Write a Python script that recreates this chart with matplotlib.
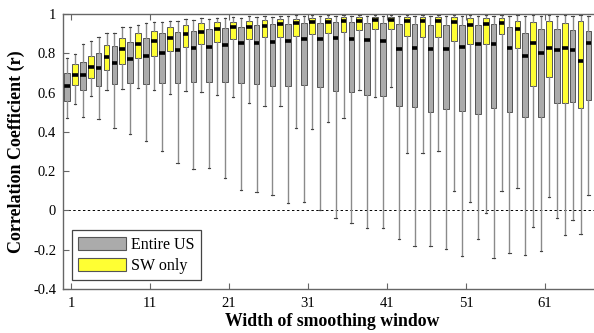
import matplotlib
matplotlib.use('Agg')
import matplotlib.pyplot as plt
from matplotlib.patches import Patch

# Smoothing window widths (one pair of boxes per width)
windows = list(range(1, 68, 2))

# Entire US: lower whisker, Q1, median, Q3, upper whisker
us_lo = [0.468, 0.477, 0.463, 0.421, 0.389, 0.355, 0.305, 0.240, 0.209, 0.214, 0.163, 0.104,
         0.095, 0.078, 0.039, 0.044, 0.002, -0.037, -0.062, -0.087, -0.091, -0.147, -0.181,
         -0.181, -0.198, -0.232, -0.147, -0.244, -0.218, -0.227, -0.207, -0.040, -0.049, 0.078]
us_q1 = [0.558, 0.613, 0.633, 0.643, 0.647, 0.644, 0.647, 0.650, 0.655, 0.655, 0.655, 0.650,
         0.645, 0.633, 0.633, 0.636, 0.627, 0.606, 0.604, 0.589, 0.582, 0.531, 0.526, 0.503,
         0.515, 0.507, 0.490, 0.523, 0.502, 0.477, 0.477, 0.545, 0.553, 0.562]
us_med = [0.633, 0.689, 0.725, 0.752, 0.772, 0.786, 0.803, 0.815, 0.825, 0.834, 0.843, 0.851,
          0.854, 0.859, 0.863, 0.872, 0.872, 0.876, 0.871, 0.867, 0.862, 0.820, 0.829, 0.823,
          0.823, 0.832, 0.845, 0.846, 0.825, 0.786, 0.803, 0.819, 0.818, 0.851]
us_q3 = [0.698, 0.757, 0.803, 0.837, 0.858, 0.879, 0.902, 0.907, 0.915, 0.924, 0.931, 0.936,
         0.942, 0.947, 0.950, 0.953, 0.956, 0.958, 0.958, 0.955, 0.955, 0.949, 0.951, 0.944,
         0.945, 0.945, 0.944, 0.949, 0.935, 0.905, 0.922, 0.923, 0.918, 0.915]
us_hi = [0.774, 0.847, 0.884, 0.905, 0.935, 0.953, 0.958, 0.966, 0.970, 0.975, 0.980, 0.982,
         0.984, 0.986, 0.988, 0.989, 0.990, 0.990, 0.990, 0.990, 0.990, 0.988, 0.988, 0.988,
         0.988, 0.988, 0.988, 0.988, 0.988, 0.988, 0.988, 0.988, 0.988, 0.988]

# SW only
sw_lo = [0.540, 0.582, 0.613, 0.616, 0.625, 0.613, 0.595, 0.608, 0.601, 0.590, 0.579, 0.545,
         0.531, 0.531, 0.422, 0.417, 0.451, 0.472, 0.613, 0.575, 0.626, 0.294, 0.294, 0.302,
         0.099, 0.041, -0.015, 0.099, 0.116, -0.083, 0.070, -0.125, -0.122, 0.100]
sw_q1 = [0.636, 0.672, 0.714, 0.743, 0.774, 0.786, 0.813, 0.830, 0.846, 0.859, 0.871, 0.874,
         0.881, 0.883, 0.888, 0.898, 0.901, 0.910, 0.919, 0.922, 0.923, 0.890, 0.881, 0.882,
         0.864, 0.846, 0.847, 0.897, 0.825, 0.633, 0.680, 0.545, 0.520, 0.560]
sw_med = [0.692, 0.728, 0.781, 0.820, 0.846, 0.861, 0.879, 0.897, 0.910, 0.925, 0.932, 0.935,
          0.938, 0.950, 0.952, 0.959, 0.961, 0.966, 0.966, 0.968, 0.969, 0.966, 0.966, 0.962,
          0.957, 0.946, 0.948, 0.955, 0.924, 0.854, 0.829, 0.829, 0.762, 0.715]
sw_q3 = [0.743, 0.787, 0.840, 0.876, 0.902, 0.915, 0.932, 0.944, 0.953, 0.957, 0.961, 0.964,
         0.969, 0.972, 0.974, 0.978, 0.978, 0.983, 0.983, 0.983, 0.983, 0.983, 0.983, 0.983,
         0.983, 0.980, 0.978, 0.978, 0.966, 0.961, 0.966, 0.956, 0.964, 0.945]
sw_hi = [0.796, 0.864, 0.905, 0.932, 0.944, 0.958, 0.966, 0.973, 0.978, 0.982, 0.986, 0.988,
         0.990, 0.992, 0.994, 0.994, 0.994, 0.994, 0.994, 0.994, 0.994, 0.994, 0.994, 0.994,
         0.994, 0.994, 0.994, 0.994, 0.994, 0.994, 0.994, 0.994, 0.994, 0.994]

xtick_vals = [1, 11, 21, 31, 41, 51, 61]
ytick_vals = [1, 0.8, 0.6, 0.4, 0.2, 0, -0.2, -0.4]
ytick_labels = ['1', '0.8', '0.6', '0.4', '0.2', '0', '-0.2', '-0.4']
series_labels = ['Entire US', 'SW only']

plt.rcParams['font.family'] = ['Liberation Serif', 'DejaVu Serif']

GREY = '#ababab'
YELLOW = '#ffff33'
EDGE = '#555555'
SPINE = '#666666'


def make_stats(lo, q1, med, q3, hi):
    return [dict(whislo=a, q1=b, med=c, q3=d, whishi=e, fliers=[])
            for a, b, c, d, e in zip(lo, q1, med, q3, hi)]


fig = plt.figure(figsize=(5.94, 3.33), dpi=100)
W, H = 594.0, 333.0
ax_left, ax_right, ax_top, ax_bot = 63, 601, 14, 289
ax = fig.add_axes([ax_left / W, 1 - ax_bot / H, (ax_right - ax_left) / W, (ax_bot - ax_top) / H])

ax.axhline(0, color='black', linestyle=(0, (2.5, 2.5)), linewidth=0.7, zorder=0)

common = dict(widths=0.72, patch_artist=True, showfliers=False, manage_ticks=False,
              capwidths=0.3,
              medianprops=dict(color='black', linewidth=2.6, solid_capstyle='butt'),
              whiskerprops=dict(color='#8a8a8a', linewidth=1.0),
              capprops=dict(color='#444444', linewidth=0.8))

ax.bxp(make_stats(us_lo, us_q1, us_med, us_q3, us_hi),
       positions=[w - 0.5 for w in windows],
       boxprops=dict(facecolor=GREY, edgecolor=EDGE, linewidth=0.7), **common)
ax.bxp(make_stats(sw_lo, sw_q1, sw_med, sw_q3, sw_hi),
       positions=[w + 0.5 for w in windows],
       boxprops=dict(facecolor=YELLOW, edgecolor=EDGE, linewidth=0.7), **common)

xmin = -0.01
xmax = 1 + (ax_right - 71) / 7.9
ax.set_xlim(xmin, xmax)
ax.set_ylim(-0.4, 1.0)

ax.set_xticks(xtick_vals)
ax.set_xticklabels([str(v) for v in xtick_vals])
ax.set_yticks(ytick_vals)
ax.set_yticklabels(ytick_labels)

ax.tick_params(axis='both', direction='in', length=4, width=0.8, color=SPINE,
               labelsize=10.5, top=True, right=False)
ax.tick_params(axis='x', pad=6)
ax.tick_params(axis='y', pad=5)
for s in ax.spines.values():
    s.set_color(SPINE)
    s.set_linewidth(1.0)

ax.set_xlabel('Width of smoothing window', fontsize=12.8, fontweight='bold', labelpad=2)
ax.set_ylabel('Correlation Coefficient (r)', fontsize=13, fontweight='bold', labelpad=6)

handles = [Patch(facecolor=GREY, edgecolor=EDGE, linewidth=0.8),
           Patch(facecolor=YELLOW, edgecolor=EDGE, linewidth=0.8)]
leg = ax.legend(handles, series_labels, loc='lower left', bbox_to_anchor=(0.016, 0.032),
                borderaxespad=0, fancybox=False, framealpha=1, edgecolor='#444444',
                fontsize=11.5, handlelength=3.0, handleheight=0.9, labelspacing=0.3,
                handletextpad=0.3, borderpad=0.4)
leg.get_frame().set_linewidth(0.9)

fig.savefig('out.png', dpi=100)
